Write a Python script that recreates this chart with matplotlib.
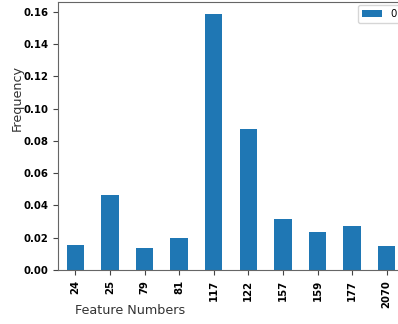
import matplotlib
matplotlib.use("Agg")
import matplotlib.pyplot as plt
import numpy as np

# feature ids and their relative frequency
features = ["24", "25", "79", "81", "117", "122", "157", "159", "177", "2070"]
frequency = [0.0153, 0.0468, 0.0135, 0.0197, 0.1586, 0.0877, 0.0315, 0.0238, 0.0273, 0.0147]

fig = plt.figure(figsize=(3.98, 3.24), dpi=100)
ax = fig.add_axes([58 / 398, 54 / 324, 346 / 398, 268 / 324])

x = np.arange(len(features))
ax.bar(x, frequency, width=0.5, color="#1f77b4", label="0")
ax.set_xlim(-0.5, len(features) - 0.5)
ax.set_ylim(0, 0.1662)
ax.set_yticks(np.arange(0, 0.161, 0.02))
ax.set_yticklabels([f"{v:.2f}" for v in np.arange(0, 0.161, 0.02)], fontsize=7.3, fontweight="bold")
ax.set_xticks(x)
ax.set_xticklabels(features, rotation=90, fontsize=7.3, fontweight="bold")

for s in ax.spines.values():
    s.set_color("#666666")
ax.tick_params(length=3.5, color="#444444")

ax.set_xlabel("Feature Numbers", fontsize=9.2, color="#333333")
ax.set_ylabel("Frequency", fontsize=9.2, color="#333333")
ax.xaxis.set_label_coords(0.208, -0.125)
ax.yaxis.set_label_coords(-0.1, 0.642)

ax.legend(loc="upper right", fontsize=7.3, fancybox=True, borderaxespad=0.3)

fig.savefig("out.png", dpi=100)
